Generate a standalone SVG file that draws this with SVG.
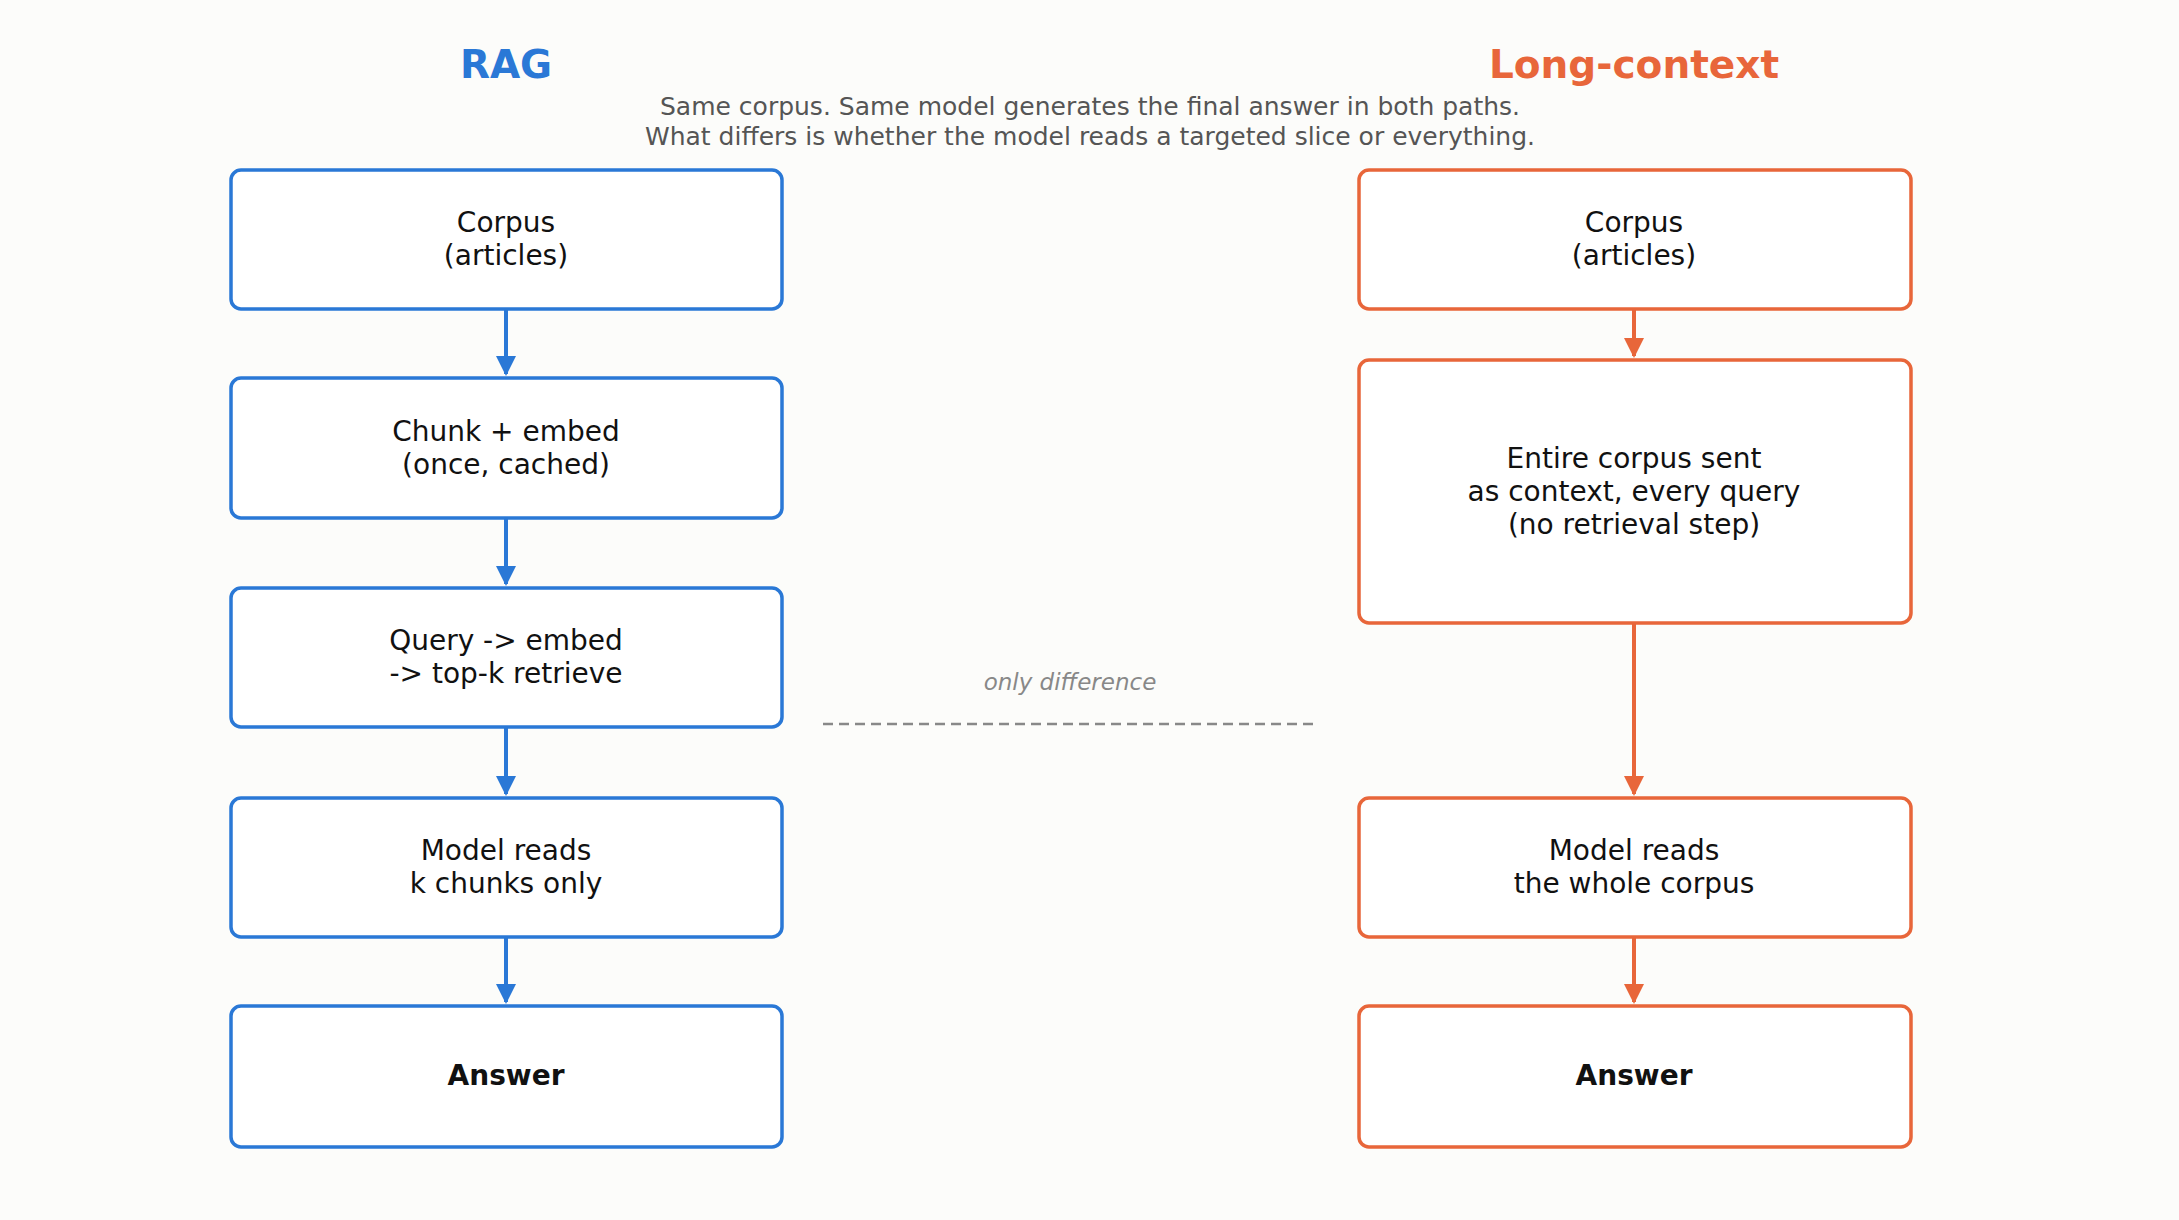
<svg xmlns="http://www.w3.org/2000/svg" width="2179" height="1220" viewBox="0 0 2179 1220">
<style>
.b{fill:#fff;stroke:#2a78d6;stroke-width:3.5}
.o{fill:#fff;stroke:#e8663a;stroke-width:3.5}
.t{font-family:"DejaVu Sans",sans-serif;font-size:28px;fill:#111;text-anchor:middle}
.cb{stroke:#2a78d6;stroke-width:4;fill:none}
.co{stroke:#e8663a;stroke-width:4;fill:none}
</style>
<defs>
<marker id="mb" viewBox="0 0 10 10" refX="9" refY="5" markerWidth="5" markerHeight="5" orient="auto" markerUnits="strokeWidth"><path d="M0,0L10,5L0,10z" fill="#2a78d6"/></marker>
<marker id="mo" viewBox="0 0 10 10" refX="9" refY="5" markerWidth="5" markerHeight="5" orient="auto" markerUnits="strokeWidth"><path d="M0,0L10,5L0,10z" fill="#e8663a"/></marker>
</defs>
<rect width="2179" height="1220" fill="#fcfcfa"/>
<text x="506" y="78" font-family="DejaVu Sans,sans-serif" font-size="39" font-weight="bold" fill="#2a78d6" text-anchor="middle">RAG</text>
<text x="1634" y="78" font-family="DejaVu Sans,sans-serif" font-size="39" font-weight="bold" fill="#e8663a" text-anchor="middle">Long-context</text>
<text x="1090" y="115" font-family="DejaVu Sans,sans-serif" font-size="25" fill="#555" text-anchor="middle">Same corpus. Same model generates the final answer in both paths.</text>
<text x="1090" y="145" font-family="DejaVu Sans,sans-serif" font-size="25" fill="#555" text-anchor="middle">What differs is whether the model reads a targeted slice or everything.</text>
<g id="connectors">
<line class="cb" x1="506" y1="309" x2="506" y2="374" marker-end="url(#mb)"/>
<line class="cb" x1="506" y1="518" x2="506" y2="584" marker-end="url(#mb)"/>
<line class="cb" x1="506" y1="727" x2="506" y2="794" marker-end="url(#mb)"/>
<line class="cb" x1="506" y1="937" x2="506" y2="1002" marker-end="url(#mb)"/>
<line class="co" x1="1634" y1="309" x2="1634" y2="356" marker-end="url(#mo)"/>
<line class="co" x1="1634" y1="623" x2="1634" y2="794" marker-end="url(#mo)"/>
<line class="co" x1="1634" y1="937" x2="1634" y2="1002" marker-end="url(#mo)"/>
<line x1="823" y1="724" x2="1316" y2="724" stroke="#888" stroke-width="2.5" stroke-dasharray="10,6"/>
<text x="1070" y="690" font-family="DejaVu Sans,sans-serif" font-size="23" font-style="italic" fill="#888" text-anchor="middle">only difference</text>
</g>
<g id="l1"><rect class="b" x="231" y="170" width="551" height="139" rx="10"/><text class="t" x="506" y="232">Corpus</text><text class="t" x="506" y="265">(articles)</text></g>
<g id="l2"><rect class="b" x="231" y="378" width="551" height="140" rx="10"/><text class="t" x="506" y="441">Chunk + embed</text><text class="t" x="506" y="474">(once, cached)</text></g>
<g id="l3"><rect class="b" x="231" y="588" width="551" height="139" rx="10"/><text class="t" x="506" y="650">Query -&gt; embed</text><text class="t" x="506" y="683">-&gt; top-k retrieve</text></g>
<g id="l4"><rect class="b" x="231" y="798" width="551" height="139" rx="10"/><text class="t" x="506" y="860">Model reads</text><text class="t" x="506" y="893">k chunks only</text></g>
<g id="l5"><rect class="b" x="231" y="1006" width="551" height="141" rx="10"/><text class="t" x="506" y="1085" font-weight="bold">Answer</text></g>
<g id="r1"><rect class="o" x="1359" y="170" width="552" height="139" rx="10"/><text class="t" x="1634" y="232">Corpus</text><text class="t" x="1634" y="265">(articles)</text></g>
<g id="r2"><rect class="o" x="1359" y="360" width="552" height="263" rx="10"/><text class="t" x="1634" y="468">Entire corpus sent</text><text class="t" x="1634" y="501">as context, every query</text><text class="t" x="1634" y="534">(no retrieval step)</text></g>
<g id="r3"><rect class="o" x="1359" y="798" width="552" height="139" rx="10"/><text class="t" x="1634" y="860">Model reads</text><text class="t" x="1634" y="893">the whole corpus</text></g>
<g id="r4"><rect class="o" x="1359" y="1006" width="552" height="141" rx="10"/><text class="t" x="1634" y="1085" font-weight="bold">Answer</text></g>
</svg>
